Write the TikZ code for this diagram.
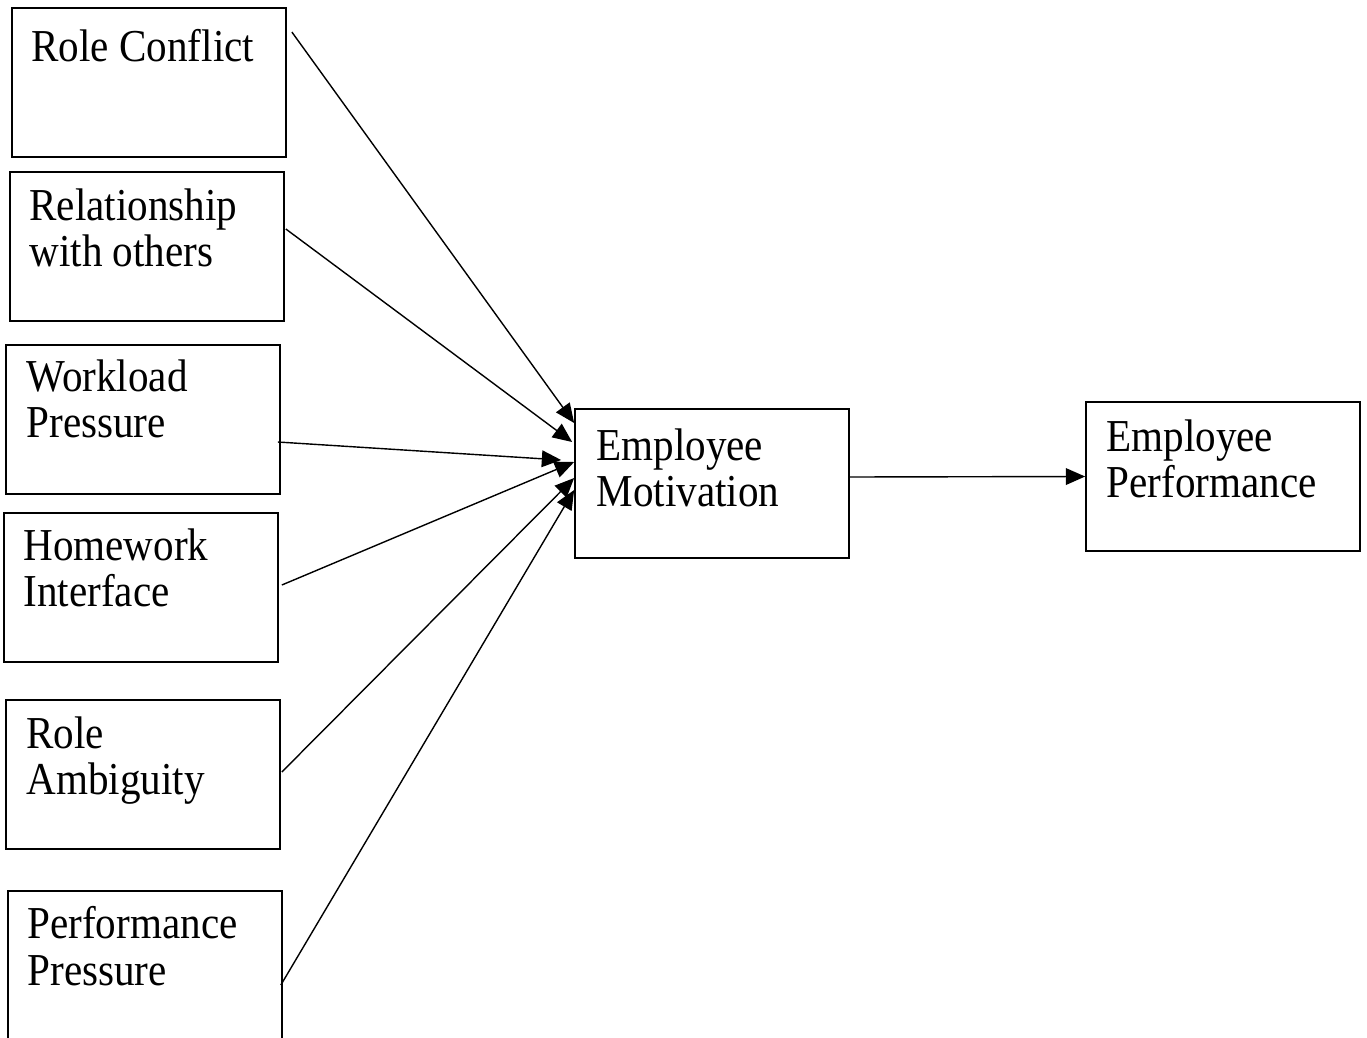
\documentclass[tikz,border=0pt]{standalone}
\usepackage{fontspec}
\setmainfont{Liberation Serif}
\newfontfamily\boxfont[FakeStretch=0.9]{Liberation Serif}
\usetikzlibrary{arrows.meta}

\tikzset{
  varbox/.style={draw,line width=1pt,minimum width=5.48cm,minimum height=2.98cm,inner sep=0pt},
  boxtext/.style={anchor=north west,inner sep=0pt,align=left,font={\boxfont\fontsize{26}{26.5}\selectfont}},
  arr/.style={line width=0.8pt,-{Triangle[length=11pt,width=9.5pt]}}
}

\begin{document}
\begin{tikzpicture}[x=0.02cm,y=-0.02cm]
        \useasboundingbox (0,0) rectangle (1367,1038);
        \clip (0,0) rectangle (1367,1038);
        % stressors
        \node[varbox](rc) at (149,82.5) {};
        \node[varbox](rel) at (147,246.5) {};
        \node[varbox](wp) at (143,419.5) {};
        \node[varbox](hw) at (141,587.5) {};
        \node[varbox](ra) at (143,774.5) {};
        \node[varbox](pp) at (145,965.5) {};
        % outcomes
        \node[varbox](em) at (712,483.5) {};
        \node[varbox](ep) at (1223,476.5) {};
        \node[boxtext](rcT) at ([shift={(20,22)}]rc.north west) {Role Conflict};
        \node[boxtext](relT) at ([shift={(20,17)}]rel.north west) {Relationship\\with others};
        \node[boxtext](wpT) at ([shift={(21,15)}]wp.north west) {Workload\\Pressure};
        \node[boxtext](hwT) at ([shift={(20,16)}]hw.north west) {Homework\\Interface};
        \node[boxtext](raT) at ([shift={(21,17)}]ra.north west) {Role\\Ambiguity};
        \node[boxtext](ppT) at ([shift={(20,16)}]pp.north west) {Performance\\Pressure};
        \node[boxtext](emT) at ([shift={(22,20)}]em.north west) {Employee\\Motivation};
        \node[boxtext](epT) at ([shift={(21,18)}]ep.north west) {Employee\\Performance};
        \draw[arr]([shift={(5,-50.5)}]rc.east)--([shift={(0,-60.5)}]em.west);
        \draw[arr]([shift={(1,-17.5)}]rel.east)--([shift={(-2,-41.5)}]em.west);
        \draw[arr]([shift={(-3,22.5)}]wp.east)--([shift={(-13,-23.5)}]em.west);
        \draw[arr]([shift={(3,-2.5)}]hw.east)--([shift={(0,-21.5)}]em.west);
        \draw[arr]([shift={(1,-2.5)}]ra.east)--([shift={(0,-5.5)}]em.west);
        \draw[arr]([shift={(-2,19.5)}]pp.east)--([shift={(0,6.5)}]em.west);
        \draw[arr]([shift={(0,-6.5)}]em.east)--(ep.west);
    \end{tikzpicture}
\end{document}
